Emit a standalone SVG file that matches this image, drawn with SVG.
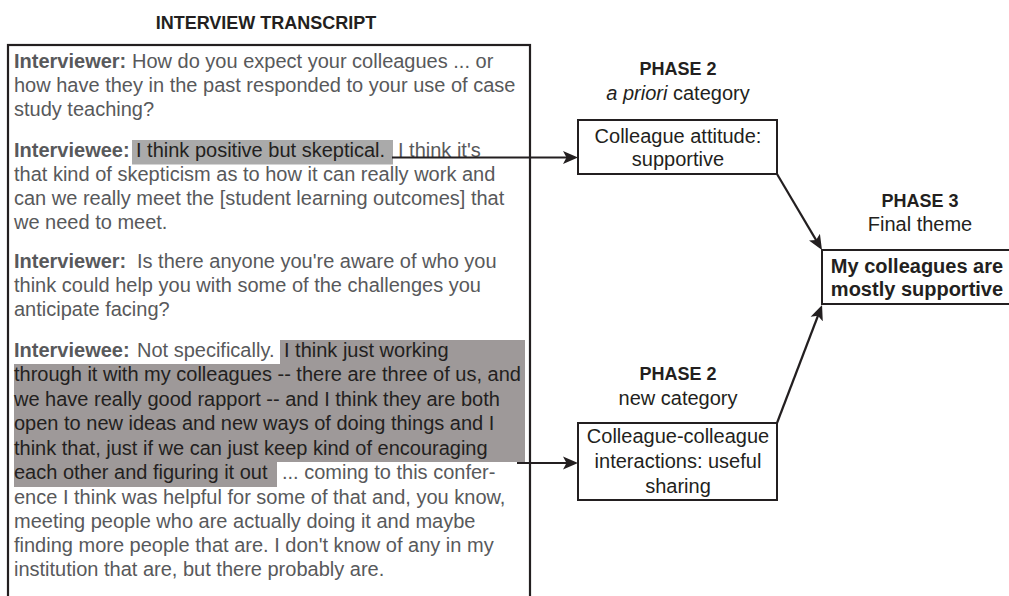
<svg xmlns="http://www.w3.org/2000/svg" width="1009" height="596" viewBox="0 0 1009 596">
<style>
.t{font-family:"Liberation Sans",Arial,sans-serif;font-size:20px;fill:#58595b}
.b{font-weight:bold}
.hl{fill:#231f20}
.h{font-family:"Liberation Sans",Arial,sans-serif;font-size:18px;font-weight:bold;fill:#231f20;text-anchor:middle}
.s{font-family:"Liberation Sans",Arial,sans-serif;font-size:20px;fill:#231f20;text-anchor:middle}
.box{fill:#fff;stroke:#231f20;stroke-width:2}
.con{stroke:#231f20;stroke-width:2.2;fill:none;marker-end:url(#ah)}
</style>
<defs>
<marker id="ah" markerUnits="userSpaceOnUse" markerWidth="16" markerHeight="14" refX="7" refY="7" orient="auto">
<path d="M0,0.5 L15,7 L0,13.5 L3.5,7 z" fill="#231f20"/>
</marker>
</defs>
<rect width="1009" height="596" fill="#fff"/>

<g id="transcript">
<text class="h" x="266" y="29">INTERVIEW TRANSCRIPT</text>
<rect x="8" y="45" width="522" height="560" fill="#fff" stroke="#231f20" stroke-width="2.2"/>
<rect x="132" y="140" width="261" height="24.5" fill="#aaaaaa"/>
<rect x="280" y="340" width="245" height="24" fill="#9e9999"/>
<rect x="14" y="364" width="511" height="98" fill="#9e9999"/>
<rect x="14" y="462" width="263" height="25" fill="#9e9999"/>
<text class="t"><tspan x="14" y="68" class="b">Interviewer:</tspan><tspan x="132" y="68">How do you expect your colleagues ... or</tspan></text>
<text class="t" x="14" y="92">how have they in the past responded to your use of case</text>
<text class="t" x="14" y="116">study teaching?</text>
<text class="t"><tspan x="14" y="157" class="b">Interviewee:</tspan><tspan x="136" y="157" class="hl">I think positive but skeptical.</tspan><tspan x="398" y="157">I think it's</tspan></text>
<text class="t" x="14" y="181">that kind of skepticism as to how it can really work and</text>
<text class="t" x="14" y="205">can we really meet the [student learning outcomes] that</text>
<text class="t" x="14" y="229">we need to meet.</text>
<text class="t"><tspan x="14" y="268" class="b">Interviewer:</tspan><tspan x="137" y="268">Is there anyone you're aware of who you</tspan></text>
<text class="t" x="14" y="292">think could help you with some of the challenges you</text>
<text class="t" x="14" y="316">anticipate facing?</text>
<text class="t"><tspan x="14" y="357" class="b">Interviewee:</tspan><tspan x="137" y="357">Not specifically.</tspan><tspan x="284" y="357" class="hl">I think just working</tspan></text>
<text class="t hl" x="14" y="381">through it with my colleagues -- there are three of us, and</text>
<text class="t hl" x="14" y="406">we have really good rapport -- and I think they are both</text>
<text class="t hl" x="14" y="430">open to new ideas and new ways of doing things and I</text>
<text class="t hl" x="14" y="455">think that, just if we can just keep kind of encouraging</text>
<text class="t"><tspan x="14" y="479" class="hl">each other and figuring it out</tspan><tspan x="282" y="479">... coming to this confer-</tspan></text>
<text class="t" x="14" y="504">ence I think was helpful for some of that and, you know,</text>
<text class="t" x="14" y="528">meeting people who are actually doing it and maybe</text>
<text class="t" x="14" y="552">finding more people that are.  I don't know of any in my</text>
<text class="t" x="14" y="576">institution that are, but there probably are.</text>
</g>

<g id="connectors">
<line class="con" x1="392" y1="157.5" x2="570" y2="157.5"/>
<line class="con" x1="517" y1="463" x2="570" y2="463"/>
<line class="con" x1="777" y1="174" x2="817.9" y2="243.1"/>
<line class="con" x1="777" y1="423" x2="819.2" y2="312.5"/>
</g>

<g id="phase2-apriori">
<text class="h" x="678" y="75">PHASE 2</text>
<text class="s" x="678" y="100"><tspan font-style="italic">a priori</tspan> category</text>
<rect class="box" x="578" y="120" width="199" height="54"/>
<text class="s" x="678" y="143">Colleague attitude:</text>
<text class="s" x="678" y="166">supportive</text>
</g>

<g id="phase3-theme">
<text class="h" x="920" y="207">PHASE 3</text>
<text class="s" x="920" y="231">Final theme</text>
<rect class="box" x="822" y="250" width="194" height="54"/>
<text class="s" x="917" y="273" font-weight="bold" font-size="18.5">My colleagues are</text>
<text class="s" x="917" y="296" font-weight="bold" font-size="18.5">mostly supportive</text>
</g>

<g id="phase2-new">
<text class="h" x="678" y="380">PHASE 2</text>
<text class="s" x="678" y="405">new category</text>
<rect class="box" x="578" y="423" width="199" height="77"/>
<text class="s" x="678" y="443">Colleague-colleague</text>
<text class="s" x="678" y="468">interactions: useful</text>
<text class="s" x="678" y="493">sharing</text>
</g>
</svg>
